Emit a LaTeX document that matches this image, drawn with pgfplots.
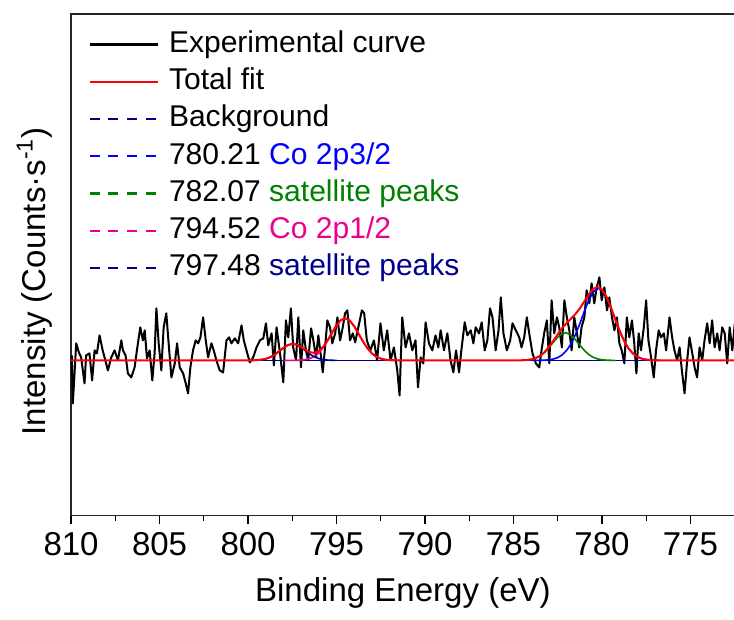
\documentclass[border=0pt]{standalone}
\usepackage{fontspec}
\setmainfont{Liberation Sans}
\usepackage{pgfplots}
\usepackage{pgfplotstable}
\pgfplotsset{compat=1.18}

\definecolor{navyb}{RGB}{0,0,140}
\definecolor{cogreen}{RGB}{0,128,0}

% experimental spectrum: binding energy (eV), intensity (arb.)
\pgfplotstableread{
E I
809.96 5
809.90 -43
809.71 17
809.56 8
809.43 3
809.24 -23
809.15 5
808.96 7
808.81 -20
808.67 10
808.54 7
808.39 25
808.24 12
808.11 3
807.92 -10
807.73 3
807.54 10
807.35 0
807.16 20
807.07 10
806.92 5
806.79 -13
806.60 -17
806.41 -7
806.28 10
806.09 33
805.94 20
805.84 30
805.71 2
805.56 10
805.41 -20
805.28 7
805.18 52
805.05 17
804.90 -10
804.77 33
804.62 47
804.47 13
804.33 -17
804.14 -3
804.01 17
803.86 -7
803.67 -13
803.52 -23
803.39 -33
803.26 -7
803.11 10
802.96 20
802.82 17
802.69 23
802.54 43
802.39 20
802.26 3
802.07 17
801.94 10
801.79 0
801.60 -10
801.41 -12
801.22 20
801.07 23
800.94 17
800.75 22
800.56 17
800.37 35
800.24 20
800.09 10
799.90 -2
799.71 3
799.52 13
799.33 20
799.14 22
798.99 37
798.86 15
798.67 27
798.54 -5
798.39 33
798.20 8
798.01 -22
797.86 40
797.73 23
797.58 52
797.45 13
797.29 0
797.16 43
797.01 -7
796.88 30
796.73 10
796.60 0
796.44 32
796.31 20
796.16 3
796.03 25
795.89 5
795.78 -12
795.65 13
795.52 40
795.37 33
795.24 17
795.08 27
794.95 43
794.80 20
794.65 33
794.52 47
794.39 50
794.24 20
794.08 27
793.95 18
793.77 33
793.57 50
793.44 47
793.29 20
793.09 10
792.89 20
792.71 0
792.52 37
792.33 10
792.14 30
791.95 0
791.76 13
791.57 -10
791.44 -35
791.29 43
791.10 13
790.91 27
790.72 10
790.54 20
790.40 -27
790.25 3
790.10 -3
789.97 38
789.78 17
789.59 10
789.41 25
789.25 13
789.12 30
788.93 10
788.74 27
788.56 0
788.40 -12
788.25 10
788.08 -12
787.95 10
787.76 38
787.61 25
787.42 30
787.27 17
787.14 33
786.95 27
786.80 38
786.63 10
786.48 20
786.33 52
786.19 43
786.01 10
785.85 30
785.72 63
785.57 27
785.38 10
785.19 20
785.06 37
784.87 30
784.68 23
784.55 13
784.40 23
784.25 43
784.08 23
783.93 7
783.74 -3
783.55 -7
783.42 10
783.27 27
783.12 40
782.98 -3
782.85 60
782.70 27
782.55 43
782.42 33
782.27 13
782.13 60
781.99 43
781.85 30
781.72 10
781.57 43
781.42 27
781.29 13
781.16 33
781.00 43
780.87 70
780.72 57
780.59 77
780.44 57
780.30 73
780.15 83
780.02 60
779.87 73
779.72 50
779.59 63
779.44 43
779.30 30
779.16 43
779.02 17
778.89 10
778.74 -3
778.60 43
778.46 23
778.31 40
778.18 17
778.06 -13
777.93 27
777.80 10
777.64 33
777.51 60
777.38 20
777.23 3
777.08 -17
776.95 10
776.80 30
776.67 23
776.51 27
776.38 10
776.19 43
776.04 23
775.91 10
775.76 0
775.62 13
775.49 -10
775.34 -33
775.19 0
775.06 23
774.93 10
774.77 -7
774.63 -17
774.49 13
774.34 0
774.21 20
774.06 37
773.92 17
773.78 40
773.64 13
773.49 27
773.36 10
773.21 33
773.07 27
772.93 -3
772.79 33
772.64 10
772.50 37
}\expdata

% total fit
\pgfplotstableread{
E I
810.00 0
800.25 0
800.00 0.03
799.75 0.09
799.50 0.26
799.25 0.67
799.00 1.56
798.75 3.18
798.50 5.71
798.25 9.01
798.00 12.52
797.75 15.33
797.50 16.53
797.25 15.75
797.00 13.38
796.75 10.44
796.50 8.15
796.25 7.57
796.00 9.36
795.75 13.66
795.50 20.13
795.25 27.80
795.00 35.11
794.75 40.31
794.50 41.99
794.25 39.67
794.00 34.00
793.75 26.43
793.50 18.63
793.25 11.92
793.00 6.91
792.75 3.63
792.50 1.73
792.25 0.75
792.00 0.29
791.75 0.10
791.50 0.03
791.25 0.01
791.00 0
784.75 0
784.50 0.15
784.25 0.40
784.00 1.01
783.75 2.27
783.50 4.56
783.25 8.21
783.00 13.34
782.75 19.57
782.50 26.16
782.25 32.24
782.00 37.34
781.75 41.75
781.50 46.38
781.25 52.06
781.00 58.92
780.75 65.98
780.50 71.43
780.25 73.37
780.00 70.67
779.75 63.42
779.50 52.83
779.25 40.78
779.00 29.16
778.75 19.32
778.50 11.84
778.25 6.73
778.00 3.53
777.75 1.72
777.50 0.77
777.25 0.32
777.00 0.12
776.75 0.04
776.50 0.01
776.25 0
772.50 0
}\totalfit

% Co 2p3/2 component (780.21)
\pgfplotstableread{
E I
784.00 0.01
783.75 0.03
783.50 0.09
783.25 0.24
783.00 0.59
782.75 1.34
782.50 2.83
782.25 5.52
782.00 9.96
781.75 16.65
781.50 25.78
781.25 36.93
781.00 48.98
780.75 60.14
780.50 68.36
780.21 72.00
780.00 70.06
779.75 63.19
779.50 52.75
779.25 40.76
779.00 29.16
778.75 19.32
778.50 11.84
778.25 6.73
778.00 3.53
777.75 1.72
777.50 0.77
777.25 0.32
777.00 0.12
776.75 0.04
}\peakA

% satellite (782.07)
\pgfplotstableread{
E I
784.50 0.15
784.25 0.40
784.00 1.00
783.75 2.24
783.50 4.47
783.25 7.97
783.00 12.75
782.75 18.23
782.50 23.33
782.25 26.72
782.07 27.50
782.00 27.38
781.75 25.10
781.50 20.60
781.25 15.13
781.00 9.94
780.75 5.84
780.50 3.07
780.25 1.44
780.00 0.61
779.75 0.23
779.50 0.08
779.25 0.02
}\peakB

% Co 2p1/2 component (794.52)
\pgfplotstableread{
E I
798.00 0.00
797.75 0.01
797.50 0.04
797.25 0.12
797.00 0.34
796.75 0.86
796.50 1.96
796.25 4.05
796.00 7.59
795.75 12.88
795.50 19.83
795.25 27.70
795.00 35.08
794.75 40.30
794.52 42.00
794.25 39.67
794.00 34.00
793.75 26.43
793.50 18.63
793.25 11.92
793.00 6.91
792.75 3.63
792.50 1.73
792.25 0.75
792.00 0.29
791.75 0.10
791.50 0.03
791.25 0.01
}\peakC

% satellite (797.48)
\pgfplotstableread{
E I
800.00 0.03
799.75 0.09
799.50 0.26
799.25 0.67
799.00 1.56
798.75 3.18
798.50 5.71
798.25 9.01
798.00 12.52
797.75 15.32
797.48 16.50
797.25 15.63
797.00 13.04
796.75 9.58
796.50 6.19
796.25 3.52
796.00 1.77
795.75 0.78
795.50 0.30
795.25 0.10
795.00 0.03
}\peakD

\begin{document}
\begin{tikzpicture}
\begin{axis}[
    name=ax,
    scale only axis,
    width=331.5pt, height=250.5pt,
    x dir=reverse,
    xmin=772.5, xmax=810,
    ymin=-155, ymax=346,
    xtick={775,780,...,810},
    minor x tick num=1,
    xtick pos=bottom,
    ytick=\empty,
    tick align=outside,
    major tick length=4pt,
    minor tick length=2.5pt,
    every tick/.style={black, line width=0.6pt},
    axis line style={black!85, line width=0.7pt},
    /pgf/number format/assume math mode=true,
    xticklabel style={font=\fontsize{16.5}{19}\selectfont, yshift=-1pt},
    xlabel={Binding Energy (eV)},
    ylabel={Intensity (Counts·s\textsuperscript{-1})},
    label style={font=\fontsize{16.5}{19}\selectfont},
    xlabel style={yshift=-4pt},
    ylabel style={at={(ticklabel cs:0.467)}, yshift=2pt},
    legend cell align=left,
    legend style={
        draw=none, fill=none,
        at={(axis description cs:0.026,0.968)}, anchor=north west,
        font=\fontsize{15}{18}\selectfont,
        inner sep=0pt,
        nodes={inner sep=0pt, text height=11pt, text depth=3pt},
        row sep=4.6pt,
    },
    legend image code/.code={\draw[#1] (0pt,0pt) -- (34pt,0pt); \path (39pt,0pt);},
]
\addlegendimage{black, line width=1.1pt}
\addlegendentry{Experimental curve}
\addlegendimage{red, line width=1.1pt}
\addlegendentry{Total fit}
\addlegendimage{navyb, line width=1.1pt, dash pattern=on 5pt off 4.3pt}
\addlegendentry{Background}
\addlegendimage{blue, line width=1.1pt, dash pattern=on 5pt off 4.3pt}
\addlegendentry{780.21 \textcolor{blue}{Co 2p3/2}}
\addlegendimage{cogreen, line width=1.1pt, dash pattern=on 5pt off 4.3pt}
\addlegendentry{782.07 \textcolor{cogreen}{satellite peaks}}
\addlegendimage{magenta, line width=1.1pt, dash pattern=on 5pt off 4.3pt}
\addlegendentry{794.52 \textcolor{magenta}{Co 2p1/2}}
\addlegendimage{navyb, line width=1.1pt, dash pattern=on 5pt off 4.3pt}
\addlegendentry{797.48 \textcolor{navyb}{satellite peaks}}

\addplot[black, line width=1pt, line join=round, forget plot] table[x=E, y=I] {\expdata};
\addplot[navyb, line width=0.8pt, forget plot] coordinates {(800,0) (776.5,0)};
\addplot[blue, line width=0.8pt, forget plot] table[x=E, y=I] {\peakA};
\addplot[cogreen, line width=0.8pt, forget plot] table[x=E, y=I] {\peakB};
\addplot[magenta, line width=0.8pt, forget plot] table[x=E, y=I] {\peakC};
\addplot[navyb, line width=0.8pt, forget plot] table[x=E, y=I] {\peakD};
\addplot[red, line width=1pt, forget plot] table[x=E, y=I] {\totalfit};
\end{axis}
\pgfresetboundingbox
\path[use as bounding box] ([shift={(-35.5pt,-52pt)}]ax.south west) rectangle ([shift={(-0.4pt,7pt)}]ax.north east);
\end{tikzpicture}
\end{document}
